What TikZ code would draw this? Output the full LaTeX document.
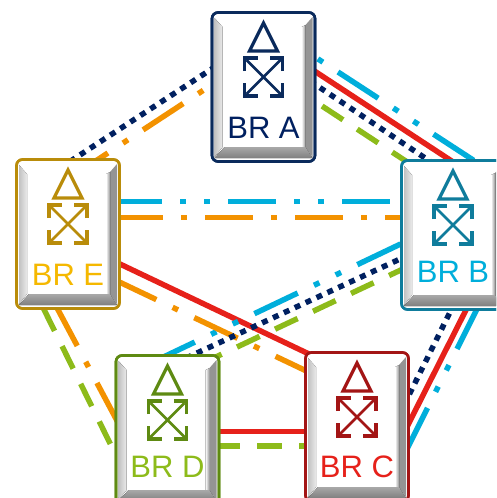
\documentclass[tikz,border=0pt]{standalone}
\usepackage{fontspec}
\setmainfont{Liberation Sans}
\usetikzlibrary{calc}
\definecolor{navy}{HTML}{002060}
\definecolor{navyb}{HTML}{0A2A5C}
\definecolor{cy}{HTML}{00AEDB}
\definecolor{cyb}{HTML}{0F7C9C}
\definecolor{rd}{HTML}{E6211A}
\definecolor{rdb}{HTML}{A31515}
\definecolor{gr}{HTML}{8DBB1A}
\definecolor{grb}{HTML}{5E8A12}
\definecolor{ye}{HTML}{F5B800}
\definecolor{yeb}{HTML}{B98C0A}
\definecolor{og}{HTML}{F39200}
\tikzset{
  link/.style={line width=5.5pt,line cap=butt},
  solidlink/.style={link,rd},
  dotlink/.style={link,navy,dash pattern=on 6pt off 6pt},
  dashlink/.style={link,gr,dash pattern=on 25pt off 17pt},
  ddlink/.style={link,cy,dash pattern=on 48pt off 18pt on 6pt off 18pt on 6pt off 18pt},
  dlink/.style={link,og,dash pattern=on 48pt off 18pt on 6pt off 18pt},
  brbox/.style={minimum width=103pt,minimum height=149pt,inner sep=0pt,rounded corners=6pt,line width=2.6pt,fill=white},
  brlabel/.style={inner sep=0pt,font=\fontsize{31}{31}\selectfont}
}
% #1 name, #2 x, #3 y, #4 border, #5 text colour, #6 label, #7 label dy
\newcommand{\brnode}[7]{%
  \begin{scope}[shift={(#2,#3)}]
    \node[brbox,draw=#4] (#1) at (0,0) {};
    \fill[left color=black!24,right color=black!8] (-49,-69) -- (-41,-60) -- (-41,60) -- (-49,70) -- cycle;
    \fill[black!42] (42,-62) -- (49,-70) -- (49,70) -- (42,60) -- cycle;
    \fill[left color=white,right color=black!42] (38,-60) -- (42,-62) -- (42,60) -- (38,60) -- cycle;
    \fill[top color=black!34,bottom color=black!50] (-49,71) -- (-39,60) -- (42,60) -- (49,71) -- cycle;
    \draw[#4,line width=2.6pt,rounded corners=6pt] (-51.5,-74.5) rectangle (51.5,74.5);
    \draw[#4,line width=3.2pt,line join=miter] (0,-64) -- (-14,-36) -- (14,-36) -- cycle;
    \draw[#4,line width=2.8pt] (-17,-27) -- (17,7) (17,-27) -- (-17,7);
    \draw[#4,line width=3.2pt]
      (-19,-16) -- (-19,-29) -- (-6,-29)
      (19,-16) -- (19,-29) -- (6,-29)
      (-19,-4) -- (-19,9) -- (-6,9)
      (19,-4) -- (19,9) -- (6,9);
    \node[brlabel,text=#5] (#1-label) at (0,#7) {#6};
  \end{scope}}
\begin{document}
\begin{tikzpicture}[x=1pt,y=-1pt]
\useasboundingbox (0,0) rectangle (496,498);
\clip (0,0) rectangle (496,498);
% anchors for the connectors
\path coordinate (pA) at (263.5,87) coordinate (pB) at (453,235) coordinate (pC) at (357,427)
      coordinate (pD) at (167.5,430) coordinate (pE) at (68,234);
% solid red
\draw[solidlink] ($(pA)+(16.5,-38.6)$) -- ($(pB)+(7,-68.5)$);
\draw[solidlink] ($(pE)+(32,20.5)$) -- ($(pC)+(-27,-63)$);
\draw[solidlink] ($(pB)+(17,67)$) -- ($(pC)+(38,23.7)$);
\draw[solidlink] ($(pD)+(40,1.3)$) -- ($(pC)+(-30,4.3)$);
% cyan
\draw[ddlink,dash phase=62.7pt] ($(pA)+(31.5,-43)$) -- ($(pB)+(37,-64)$);
\draw[ddlink] ($(pE)+(46,-32.5)$) -- ($(pB)+(-23,-33.5)$);
\draw[ddlink] ($(pD)+(-16,-67.3)$) -- ($(pB)+(-23,-5)$);
\draw[ddlink] ($(pB)+(25.5,71)$) -- ($(pC)+(38,46)$);
% orange
\draw[dlink] ($(pE)+(-0.2,-54.7)$) -- ($(pA)+(29.5,-55.6)$);
\draw[dlink] ($(pE)+(47,-16.3)$) -- ($(pB)+(-23,-17.3)$);
\draw[dlink] ($(pE)+(45,45)$) -- ($(pC)+(2,-31)$);
\draw[dlink] ($(pE)+(-13.3,69.5)$) -- ($(pD)+(-28.5,32)$);
% green
\draw[dashlink] ($(pA)+(23.5,-4)$) -- ($(pB)+(-26,-60)$);
\draw[dashlink] ($(pE)+(-24.5,74.5)$) -- ($(pD)+(-31.5,66)$);
\draw[dashlink] ($(pD)+(31.5,-65.1)$) -- ($(pB)+(-26,22.7)$);
\draw[dashlink] ($(pD)+(47.5,16)$) -- ($(pC)+(-37,19)$);
% navy
\draw[dotlink] ($(pA)+(26.5,-19.4)$) -- ($(pB)+(-13,-67)$);
\draw[dotlink] ($(pE)+(-8,-66)$) -- ($(pA)+(-33.5,-30)$);
\draw[dotlink] ($(pD)+(7.5,-66.8)$) -- ($(pB)+(-28,12.4)$);
\draw[dotlink] ($(pB)+(7,57)$) -- ($(pC)+(38,-3.7)$);
% routers
\brnode{A}{263.5}{87}{navyb}{navy}{BR A}{40.5}
\brnode{B}{453}{235}{cyb}{cy}{BR B}{37}
\brnode{C}{357}{427}{rdb}{rd}{BR C}{40}
\brnode{D}{167.5}{430}{grb}{gr}{BR D}{37}
\brnode{E}{68}{234}{yeb}{ye}{BR E}{41}
\end{tikzpicture}
\end{document}
